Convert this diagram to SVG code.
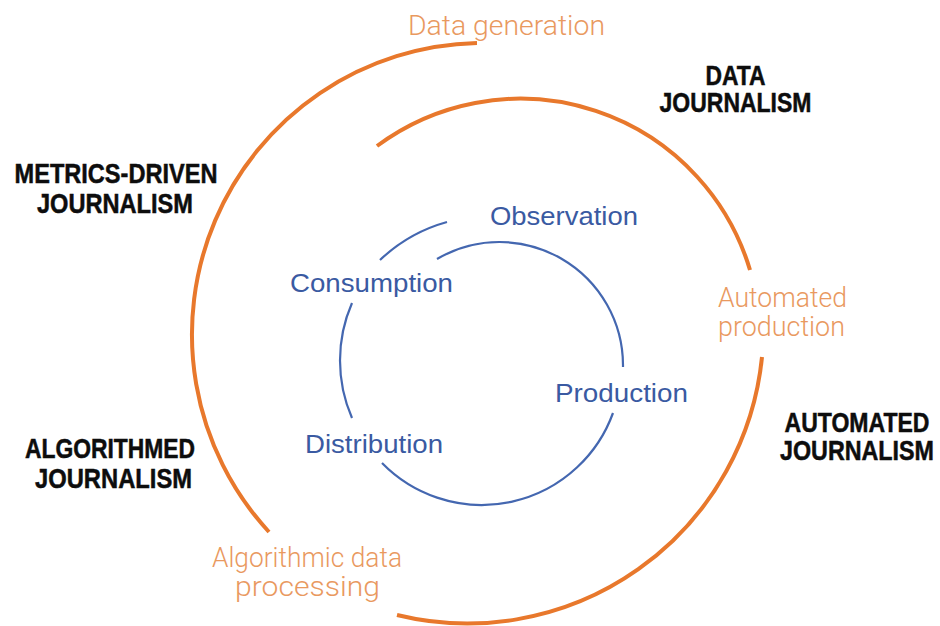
<svg xmlns="http://www.w3.org/2000/svg" width="940" height="626" viewBox="0 0 940 626">
  <style>
    .outer { fill: none; stroke: #E8782C; stroke-width: 4; stroke-linecap: butt; }
    .inner { fill: none; stroke: #4467B0; stroke-width: 2.2; }
    .era { font-family: "Liberation Sans", Arial, sans-serif; font-weight: 700; font-size: 27px; fill: #0d0d0d; stroke: #0d0d0d; stroke-width: 0.5; text-anchor: middle; }
    .stage { font-family: Roboto, "Open Sans", "Liberation Sans", sans-serif; font-weight: 300; font-size: 27px; fill: #E9995F; text-anchor: middle; }
    .step { font-family: "Liberation Sans", Arial, sans-serif; font-size: 25px; fill: #3A5AA2; text-anchor: middle; }
  </style>
  <rect width="940" height="626" fill="#ffffff"/>

  <!-- spiral arcs -->
  <g id="connectors">
    <!-- outer orange spiral, counter-clockwise -->
    <path class="outer" d="M477,43 A291.6,291.6 0 0 0 269,532"/>
    <path class="outer" d="M397,615 A296,296 0 0 0 762,357"/>
    <path class="outer" d="M750,270 A240,240 0 0 0 377,146"/>
    <!-- inner blue cycle, clockwise -->
    <path class="inner" d="M437,259 A123.5,123.5 0 0 1 623,367"/>
    <path class="inner" d="M613,413 A139.6,139.6 0 0 1 382,463"/>
    <path class="inner" d="M352,418 A143.75,143.75 0 0 1 352,303"/>
    <path class="inner" d="M380,260 A159,159 0 0 1 447,222"/>
  </g>

  <!-- journalism types (condensed bold: narrowed horizontally) -->
  <g id="data-journalism" transform="translate(735.5,0) scale(0.86,1)">
    <text class="era" x="0" y="85" textLength="69.8" lengthAdjust="spacingAndGlyphs">DATA</text>
    <text class="era" x="0" y="112" textLength="176.7" lengthAdjust="spacingAndGlyphs">JOURNALISM</text>
  </g>
  <g id="metrics-driven-journalism" transform="translate(116,0) scale(0.86,1)">
    <text class="era" x="0" y="183" textLength="236" lengthAdjust="spacingAndGlyphs">METRICS-DRIVEN</text>
    <text class="era" x="-1.2" y="213" textLength="181.4" lengthAdjust="spacingAndGlyphs">JOURNALISM</text>
  </g>
  <g id="algorithmed-journalism" transform="translate(111,0) scale(0.86,1)">
    <text class="era" x="-1.2" y="458" textLength="197.7" lengthAdjust="spacingAndGlyphs">ALGORITHMED</text>
    <text class="era" x="2.9" y="488" textLength="182.6" lengthAdjust="spacingAndGlyphs">JOURNALISM</text>
  </g>
  <g id="automated-journalism" transform="translate(857,0) scale(0.86,1)">
    <text class="era" x="0" y="432" textLength="168.6" lengthAdjust="spacingAndGlyphs">AUTOMATED</text>
    <text class="era" x="0" y="460" textLength="179.1" lengthAdjust="spacingAndGlyphs">JOURNALISM</text>
  </g>

  <!-- stages on the outer spiral -->
  <g id="data-generation">
    <text class="stage" x="506.5" y="35" textLength="197" lengthAdjust="spacingAndGlyphs">Data generation</text>
  </g>
  <g id="automated-production">
    <text class="stage" x="782.5" y="307" textLength="129" lengthAdjust="spacingAndGlyphs">Automated</text>
    <text class="stage" x="781.5" y="336" textLength="127" lengthAdjust="spacingAndGlyphs">production</text>
  </g>
  <g id="algorithmic-data-processing">
    <text class="stage" x="307" y="567" textLength="190" lengthAdjust="spacingAndGlyphs">Algorithmic data</text>
    <text class="stage" x="307.5" y="596" textLength="145" lengthAdjust="spacingAndGlyphs">processing</text>
  </g>

  <!-- news cycle steps -->
  <g id="observation">
    <text class="step" x="564" y="225" textLength="148" lengthAdjust="spacingAndGlyphs">Observation</text>
  </g>
  <g id="production">
    <text class="step" x="621.5" y="402" textLength="133" lengthAdjust="spacingAndGlyphs">Production</text>
  </g>
  <g id="distribution">
    <text class="step" x="374" y="453" textLength="138" lengthAdjust="spacingAndGlyphs">Distribution</text>
  </g>
  <g id="consumption">
    <text class="step" x="371.5" y="292" textLength="163" lengthAdjust="spacingAndGlyphs">Consumption</text>
  </g>
</svg>
